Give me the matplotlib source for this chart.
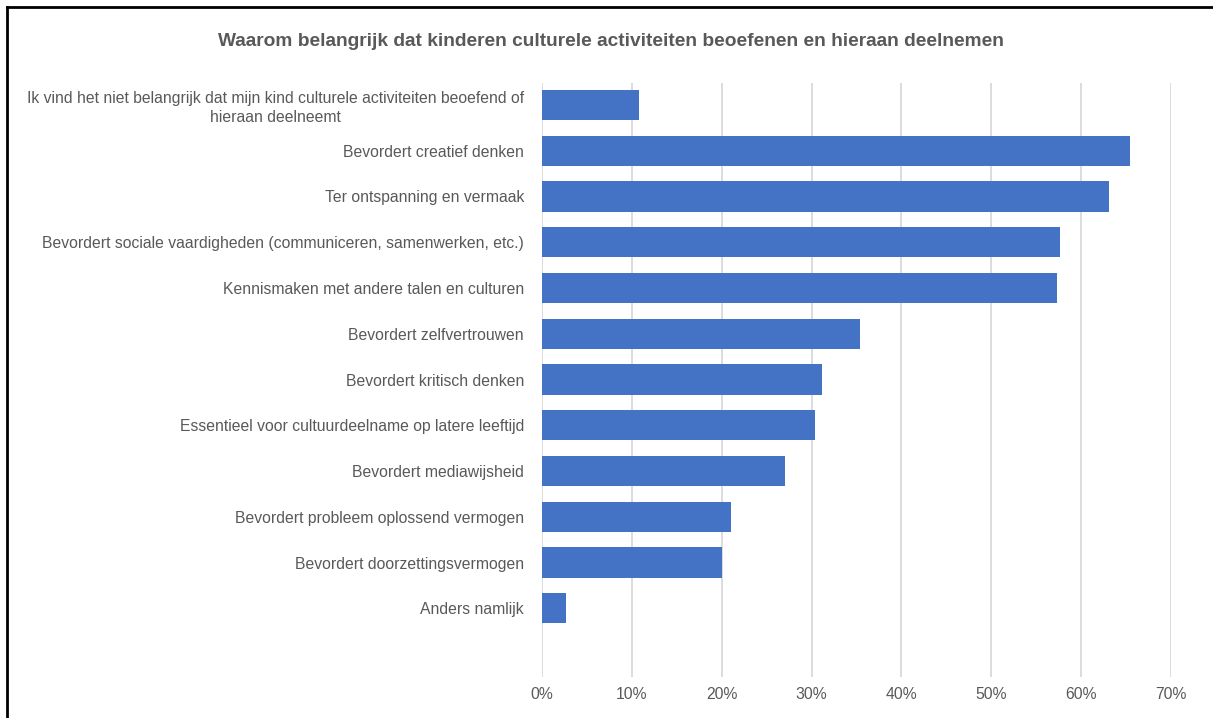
import matplotlib
matplotlib.use("Agg")
import matplotlib.pyplot as plt
from matplotlib.lines import Line2D
from matplotlib.ticker import PercentFormatter

plt.rcParams['font.family'] = ['Liberation Sans', 'DejaVu Sans']

# Data
categorieen = [
    "Ik vind het niet belangrijk dat mijn kind culturele activiteiten beoefend of\nhieraan deelneemt",
    "Bevordert creatief denken",
    "Ter ontspanning en vermaak",
    "Bevordert sociale vaardigheden (communiceren, samenwerken, etc.)",
    "Kennismaken met andere talen en culturen",
    "Bevordert zelfvertrouwen",
    "Bevordert kritisch denken",
    "Essentieel voor cultuurdeelname op latere leeftijd",
    "Bevordert mediawijsheid",
    "Bevordert probleem oplossend vermogen",
    "Bevordert doorzettingsvermogen",
    "Anders namlijk",
]
percentages = [10.8, 65.4, 63.1, 57.6, 57.3, 35.4, 31.2, 30.4, 27.0, 21.0, 20.0, 2.7]
xticks = [0, 10, 20, 30, 40, 50, 60, 70]
titel = "Waarom belangrijk dat kinderen culturele activiteiten beoefenen en hieraan deelnemen"

W, H = 1213, 718
fig = plt.figure(figsize=(W / 100, H / 100), dpi=100)
ax = fig.add_axes([542 / W, (H - 677) / H, (1171 - 542) / W, (677 - 83) / H])

pos = list(range(len(categorieen)))
ax.barh(pos, percentages, height=0.66, color='#4472C4', zorder=3)

ax.set_xlim(0, 70)
ax.set_ylim(12.5, -0.48)
ax.set_xticks(xticks)
ax.xaxis.set_major_formatter(PercentFormatter(decimals=0))
ax.set_yticks(pos)
ax.set_yticklabels(categorieen, multialignment='center', linespacing=1.3)
ax.tick_params(axis='both', length=0, labelsize=11.35, colors='#595959')
ax.tick_params(axis='y', pad=13)
ax.tick_params(axis='x', pad=7)
ax.grid(axis='x', color='#d9d9d9', linewidth=1.3, zorder=0)
for s in ax.spines.values():
    s.set_visible(False)

fig.text(611 / W, 1 - 41 / H, titel, ha='center', va='center',
         fontsize=13.8, fontweight='bold', color='#595959')

# rand links en boven
fig.add_artist(Line2D([7 / W, 7 / W], [0, 1 - 7 / H], color='black', linewidth=2))
fig.add_artist(Line2D([7 / W, 1], [1 - 7 / H, 1 - 7 / H], color='black', linewidth=2))

fig.savefig('out.png', dpi=100)
